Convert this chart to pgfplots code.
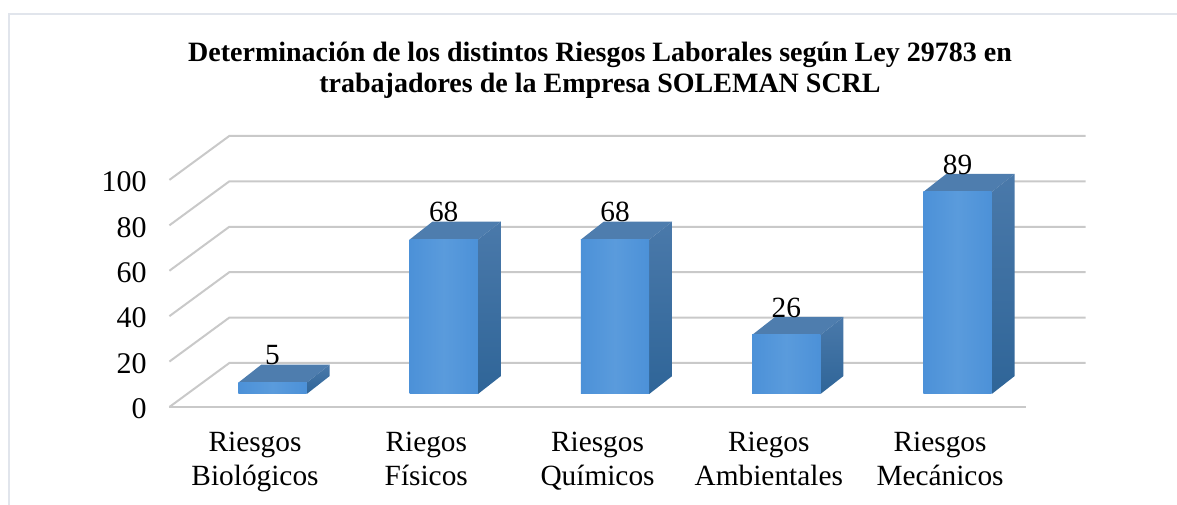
\documentclass[border=0pt]{standalone}
\usepackage{pgfplots}
\pgfplotsset{compat=1.18}
\usepackage{fontspec}
\setmainfont{Liberation Serif}
\definecolor{gridc}{HTML}{C9C9C9}
\definecolor{framec}{HTML}{E1E5EC}
\definecolor{fmid}{HTML}{5A9BDC}
\definecolor{fedge}{HTML}{4C91D8}
\definecolor{topc}{HTML}{4E7DAE}
\definecolor{sideT}{HTML}{4A79AA}
\definecolor{sideB}{HTML}{2F6598}
% 1 reference pixel = 0.75pt
\newcommand{\gridline}[1]{%
  \pgfmathsetmacro{\ya}{#1}%
  \pgfmathsetmacro{\yb}{#1+19.38}%
  \addplot[gridc,line width=1.5pt,no marks] coordinates {(-0.5,\ya) (-0.15,\yb) (4.85,\yb)};
}
% one bar: category index, value
\newcommand{\threedbar}[2]{%
  \pgfmathsetmacro{\xl}{#1+0.1022-0.1997}%
  \pgfmathsetmacro{\xr}{#1+0.1022+0.1997}%
  \pgfmathsetmacro{\xlb}{\xl+0.1343}%
  \pgfmathsetmacro{\xrb}{\xr+0.1343}%
  \pgfmathsetmacro{\yo}{5.727}%
  \pgfmathsetmacro{\yt}{5.727+#2}%
  \pgfmathsetmacro{\yob}{\yo+7.93}%
  \pgfmathsetmacro{\ytb}{\yt+7.93}%
  \addplot[draw=none,fill=topc,no marks] coordinates {(\xl,\yt) (\xr,\yt) (\xrb,\ytb) (\xlb,\ytb)} --cycle;
  \addplot[draw=none,top color=sideT,bottom color=sideB,no marks] coordinates {(\xr,\yo) (\xrb,\yob) (\xrb,\ytb) (\xr,\yt)} --cycle;
  \addplot[ybar,bar width=51.3pt,bar shift=0pt,draw=none,xshift=13.1pt,yshift=9.75pt,
    left color=fedge,right color=fedge,middle color=fmid,
    nodes near coords,
    every node near coord/.append style={anchor=base,inner sep=0pt,yshift=13.3pt,font=\fontsize{22}{24}\selectfont,text=black}]
    coordinates {(#1,#2)};
}
\begin{document}
\begin{tikzpicture}
\begin{axis}[
  at={(0,0)},anchor=south west,
  scale only axis,
  width=687.15pt,height=203.3pt,
  xmin=-0.5,xmax=4.85,ymin=0,ymax=119.38,
  clip=false,
  axis x line*=bottom,axis y line*=left,
  x axis line style={draw=none},y axis line style={draw=none},
  major tick length=0pt,
  xtick={0,1,2,3,4},
  xticklabels={{Riesgos\\Biológicos},{Riegos\\Físicos},{Riesgos\\Químicos},{Riegos\\Ambientales},{Riesgos\\Mecánicos}},
  xticklabel style={align=center,inner sep=0pt,yshift=-18.5pt,font=\fontsize{22}{25.5}\selectfont},
  ytick={0,20,40,60,80,100},
  yticklabel style={inner sep=0pt,xshift=-16.8pt,yshift=-1.5pt,font=\fontsize{22.5}{24}\selectfont},
  /pgf/number format/assume math mode=true,
  title={Determinación de los distintos Riesgos Laborales según Ley 29783 en\\trabajadores de la Empresa SOLEMAN SCRL},
  title style={at={(0.47,1)},anchor=south,align=center,inner sep=0pt,yshift=21.75pt,font=\fontsize{21}{23.5}\selectfont\bfseries},
]
\addplot[gridc,line width=1.5pt,no marks] coordinates {(-0.5,0) (-0.15,19.38) (4.85,19.38)};
\addplot[gridc,line width=1.5pt,no marks] coordinates {(-0.5,0) (4.5,0)};
\gridline{20}
\gridline{40}
\gridline{60}
\gridline{80}
\gridline{100}
\threedbar{0}{5}
\threedbar{1}{68}
\threedbar{2}{68}
\threedbar{3}{26}
\threedbar{4}{89}
\end{axis}
\draw[framec,line width=1.5pt] (-120pt,-73.5pt) -- (-120pt,295pt) -- (755.7pt,295pt);
\pgfresetboundingbox
\path[use as bounding box] (-127.05pt,-73.5pt) rectangle (755.7pt,305.25pt);
\end{tikzpicture}
\end{document}
